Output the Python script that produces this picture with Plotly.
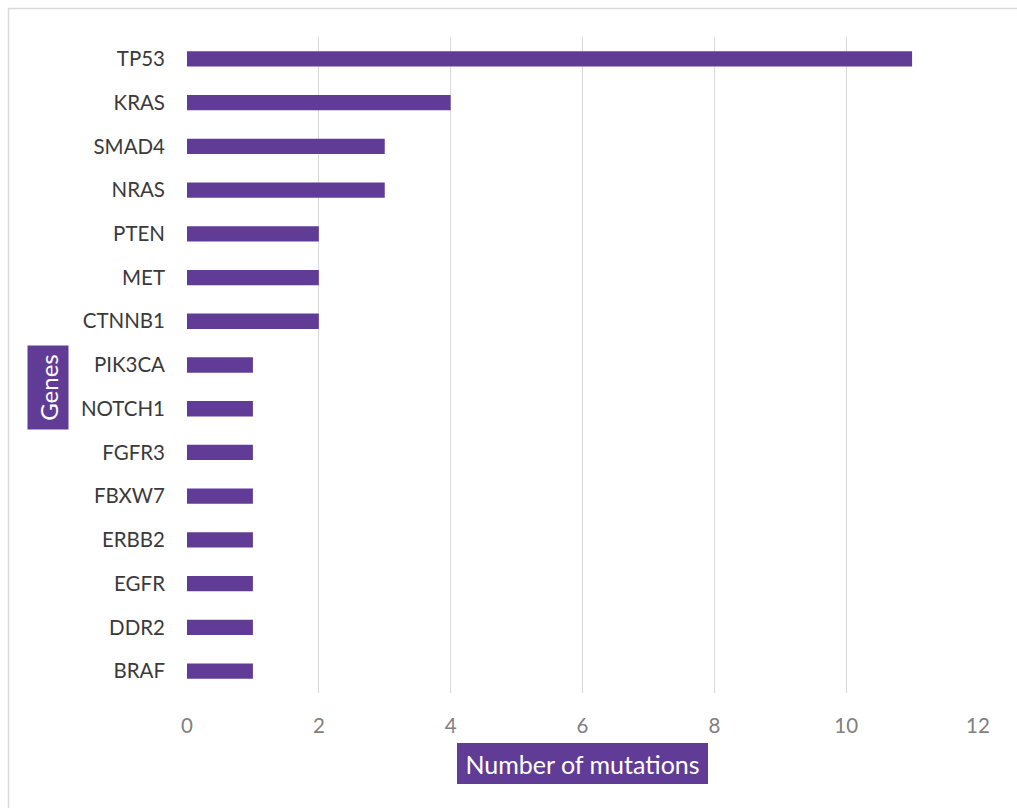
import plotly.graph_objects as go

genes = ["TP53", "KRAS", "SMAD4", "NRAS", "PTEN", "MET", "CTNNB1", "PIK3CA",
         "NOTCH1", "FGFR3", "FBXW7", "ERBB2", "EGFR", "DDR2", "BRAF"]
mutations = [11, 4, 3, 3, 2, 2, 2, 1, 1, 1, 1, 1, 1, 1, 1]
x_ticks = [0, 2, 4, 6, 8, 10, 12]

W, H = 1017, 808
L, R, T, B = 187, 39, 37, 115
pw, ph = W - L - R, H - T - B

def px_x(p):
    return (p - L) / pw

def px_y(p):
    return (H - B - p) / ph

purple = "#613C97"
font_family = "Lato, sans-serif"

fig = go.Figure(go.Bar(
    x=mutations, y=genes, orientation="h",
    marker=dict(color=purple, line=dict(width=0)),
    width=0.35,
))

fig.update_layout(
    width=W, height=H,
    margin=dict(l=L, r=R, t=T, b=B),
    paper_bgcolor="white", plot_bgcolor="white",
    showlegend=False,
    font=dict(family=font_family),
    xaxis=dict(
        range=[0, 12], tickvals=x_ticks, showgrid=True, gridcolor="#d9d9d9",
        gridwidth=1, zeroline=False, showline=False, ticks="",
        tickfont=dict(size=20.5, color="#808080"),
        ticklabelstandoff=18,
    ),
    yaxis=dict(
        categoryorder="array", categoryarray=genes, autorange="reversed",
        showgrid=False, zeroline=False, showline=False, ticks="",
        tickfont=dict(size=20.5, color="#3a3a3a"),
        ticklabelstandoff=21,
    ),
    shapes=[dict(
        type="rect", xref="paper", yref="paper",
        x0=px_x(8.5), x1=px_x(1030), y0=px_y(8.5), y1=px_y(830),
        line=dict(color="#d9d9d9", width=1.5), fillcolor="rgba(0,0,0,0)", layer="below",
    )],
    annotations=[
        dict(text="Genes", xref="paper", yref="paper", x=px_x(47.5), y=px_y(388),
             xanchor="center", yanchor="middle", textangle=-90, showarrow=False,
             font=dict(size=24, color="white", family=font_family),
             bgcolor=purple, borderpad=0, borderwidth=0, width=84, height=41),
        dict(text="Number of mutations", xref="paper", yref="paper", x=px_x(582.5), y=px_y(763.5),
             xanchor="center", yanchor="middle", showarrow=False,
             font=dict(size=25, color="white", family=font_family),
             bgcolor=purple, borderpad=0, borderwidth=0, width=251, height=41),
    ],
)

fig.write_html("out.html")
